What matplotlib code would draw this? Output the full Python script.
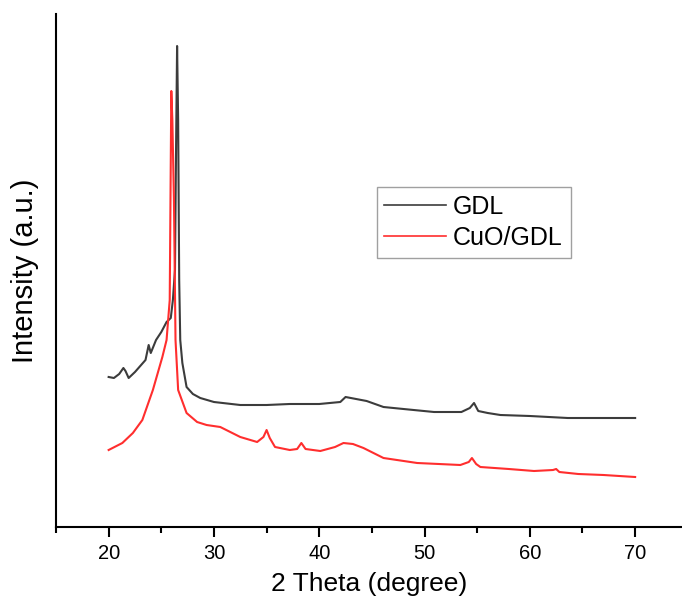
import matplotlib
matplotlib.use("Agg")
import matplotlib.pyplot as plt
from matplotlib.ticker import MultipleLocator

plt.rcParams['font.family'] = ['Liberation Sans', 'DejaVu Sans']

# GDL trace (2theta, intensity a.u.)
gdl_x = [20.0, 20.5, 21.0, 21.4, 21.6, 21.9, 22.5, 23.0, 23.5, 23.8, 24.0, 24.5,
         25.0, 25.5, 25.9, 26.1, 26.3, 26.4, 26.5, 26.6, 26.7, 26.8, 27.0, 27.4,
         28.0, 28.7, 30.0, 32.5, 35.0, 37.2, 40.0, 42.0, 42.5, 43.5, 44.5, 46.1,
         48.0, 50.9, 53.5, 54.3, 54.7, 55.1, 56.0, 57.2, 60.0, 63.6, 67.0, 70.0]
gdl_y = [150, 149, 153, 159, 156, 149, 155, 161, 167, 182, 174, 187,
         195, 205, 209, 227, 257, 377, 481, 407, 247, 187, 164, 140,
         133, 129, 125, 122, 122, 123, 123, 125, 130, 128, 126, 120,
         118, 115, 115, 119, 124, 116, 114, 112, 111, 109, 109, 109]

# CuO/GDL trace
cuo_x = [20.0, 21.3, 22.3, 23.2, 24.2, 25.1, 25.5, 25.8, 25.95, 26.05, 26.2, 26.35,
         26.6, 27.4, 28.4, 29.3, 30.6, 32.5, 34.1, 34.7, 35.0, 35.3, 35.8, 37.2,
         37.9, 38.3, 38.7, 40.1, 41.5, 42.3, 43.2, 44.2, 46.1, 49.3, 53.4, 54.2,
         54.5, 54.9, 55.3, 58.0, 60.4, 62.2, 62.5, 62.8, 64.6, 67.0, 70.0]
cuo_y = [77, 84, 94, 107, 137, 170, 187, 227, 436, 407, 327, 187,
         137, 114, 105, 102, 100, 90, 85, 90, 97, 89, 80, 77,
         78, 84, 78, 76, 80, 84, 83, 79, 69, 64, 62, 65,
         69, 63, 60, 58, 56, 57, 58, 55, 53, 52, 50]

fig = plt.figure(figsize=(6.82, 6.06), dpi=100)
ax = fig.add_axes([56/682, 79/606, 1 - 56/682, (527-14)/606])

ax.plot(gdl_x, gdl_y, color='#3c3c3c', lw=1.5, label='GDL')
ax.plot(cuo_x, cuo_y, color='#ff2e2e', lw=1.5, label='CuO/GDL')

ax.set_xlim(15, 74.45)
ax.set_ylim(0, 513)
ax.xaxis.set_major_locator(MultipleLocator(10))
ax.xaxis.set_minor_locator(MultipleLocator(5))
ax.set_yticks([])
for s in ['top', 'right']:
    ax.spines[s].set_visible(False)
for s in ['left', 'bottom']:
    ax.spines[s].set_linewidth(1.5)
ax.tick_params(axis='x', which='major', length=7, width=1.5, labelsize=14.5, pad=5)
ax.tick_params(axis='x', which='minor', length=4, width=1.5)

ax.set_xlabel('2 Theta (degree)', fontsize=19, labelpad=7)
ax.set_ylabel('Intensity (a.u.)', fontsize=21, labelpad=12)

leg = ax.legend(loc='upper left', bbox_to_anchor=(377/682, 1 - 187/606),
                bbox_transform=fig.transFigure, fontsize=18, frameon=True,
                fancybox=False, edgecolor='#888888', handlelength=2.45,
                handletextpad=0.3, borderpad=0.3, borderaxespad=0,
                labelspacing=0.3)
leg.get_frame().set_linewidth(1.0)
for l in leg.get_lines():
    l.set_linewidth(1.2)

fig.savefig('out.png', dpi=100)
